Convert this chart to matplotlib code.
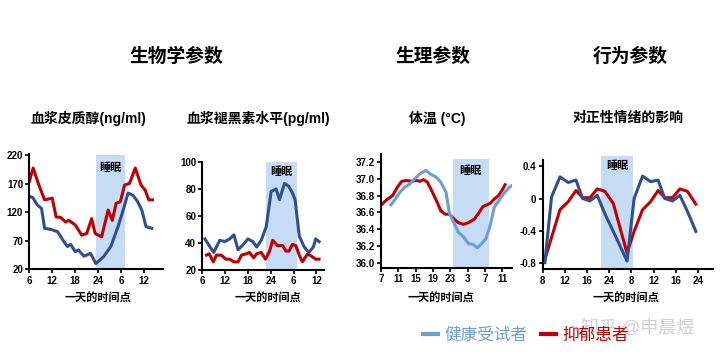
import matplotlib
matplotlib.use("Agg")
import matplotlib.pyplot as plt
from matplotlib.lines import Line2D

plt.rcParams['font.family'] = ['Liberation Sans', 'Noto Sans CJK SC', 'DejaVu Sans']

DARK_BLUE = "#2f4f8f"
LIGHT_BLUE = "#6b9fd3"
RED = "#c00000"
SLEEP = "#c6dcf5"

# --- cortisol (ng/ml) ---
cort_dep_h = [6, 7, 8.5, 10, 12, 13, 14.2, 15.5, 16.3, 18, 19.7, 21, 22.3, 23.2, 24.9,
              26.6, 27.7, 28.7, 29.8, 30.9, 32.2, 33.7, 35.2, 36.3, 37.2, 38.2]
cort_dep = [174, 198, 168, 142, 145, 112, 111, 103, 106, 98, 80, 83, 109, 83, 77,
            124, 106, 136, 139, 168, 171, 198, 168, 159, 142, 142]
cort_hea_h = [6, 6.9, 8.1, 9.2, 10, 11.7, 13.4, 15.1, 16, 16.8, 18, 18.8, 20.3, 22, 23.4,
              25.4, 27.3, 29.2, 30.8, 31.8, 33.1, 34.3, 35.4, 36.5, 38]
cort_hea = [148, 146, 133, 127, 92, 90, 86, 68, 60, 64, 51, 54, 43, 48, 30,
            42, 60, 95, 130, 154, 150, 139, 124, 95, 92]

# --- melatonin (pg/ml) ---
mel_hea_h = [6.7, 7.8, 9, 10.6, 11.9, 13.2, 14.3, 15.4, 16.5, 18, 19.3, 20.3, 21.5, 22.8,
             24.1, 25.4, 26.3, 27.6, 28.7, 29.7, 30.4, 31.5, 32.8, 34, 35.2, 35.8, 36.7]
mel_hea = [43, 38, 33, 42, 41, 43, 46, 35, 38, 43, 41, 37, 42, 52,
           78, 80, 72, 84, 82, 77, 72, 45, 37, 33, 37, 43, 41]
mel_dep_h = [7.1, 7.8, 8.9, 9.7, 11, 12.2, 13.2, 14.3, 15.4, 16.3, 17.6, 18.4, 19.5, 20.3,
             21.5, 22.6, 23.7, 24.5, 25.8, 27.1, 28, 28.8, 29.7, 30.6, 31.5, 32.3, 33.7,
             34.8, 35.8, 36.7]
mel_dep = [31, 32, 26, 31, 31, 28, 28, 26, 26, 31, 32, 33, 29, 32,
           33, 28, 34, 42, 38, 38, 34, 34, 39, 38, 31, 26, 32,
           30, 28, 28]

# --- body temperature (C) ---
temp_dep_h = [7.3, 8.3, 9.7, 10.8, 11.8, 12.9, 14.1, 15.2, 16, 16.8, 17.7, 18.7, 19.8, 20.8,
              21.8, 22.8, 23.7, 24.8, 26, 27.2, 28.5, 29.5, 30.5, 31.4, 32.2, 33.1, 34.1,
              35.1, 35.6]
temp_dep = [36.70, 36.75, 36.80, 36.90, 36.97, 36.98, 36.97, 36.98, 36.97, 36.99, 36.96,
            36.86, 36.74, 36.62, 36.58, 36.58, 36.53, 36.48, 36.46, 36.48, 36.52, 36.59,
            36.67, 36.69, 36.71, 36.76, 36.80, 36.88, 36.93]
temp_hea_h = [9.3, 10.2, 11.4, 12.5, 13.7, 14.8, 16, 17.4, 18.3, 19.7, 20.8, 22, 22.8, 23.7,
              24.8, 26.2, 27.2, 28.3, 29.2, 30.2, 31.2, 32.2, 33.1, 34.3, 35.4, 36.6, 37.2]
temp_hea = [36.69, 36.75, 36.84, 36.90, 36.94, 37.00, 37.06, 37.10, 37.06, 37.02, 36.96,
            36.84, 36.59, 36.49, 36.37, 36.30, 36.23, 36.22, 36.18, 36.23, 36.29, 36.45,
            36.66, 36.75, 36.83, 36.90, 36.92]

# --- positive affect ---
mood_x = [0.1, 0.4, 0.78, 1.15, 1.5, 1.8, 2.13, 2.46, 2.8, 3.18, 3.8,
          4.12, 4.5, 4.86, 5.2, 5.5, 5.85, 6.18, 6.52, 6.9]
mood_hea = [-0.80, 0.02, 0.27, 0.20, 0.23, 0.0, -0.03, 0.04, -0.19, -0.41, -0.78,
            0.0, 0.28, 0.21, 0.23, 0.0, -0.03, 0.04, -0.16, -0.41]
mood_dep_x = [0.1, 0.78, 1.15, 1.5, 1.8, 2.13, 2.46, 2.8, 3.18, 3.8,
              4.12, 4.5, 4.86, 5.2, 5.5, 5.85, 6.18, 6.52, 6.9]
mood_dep = [-0.76, -0.14, -0.04, 0.10, 0.01, 0.01, 0.12, 0.09, -0.06, -0.68,
            -0.41, -0.14, -0.04, 0.10, 0.01, 0.01, 0.12, 0.09, -0.07]
mood_ticks = ['8', '12', '16', '24', '8', '12', '16', '24']

fig = plt.figure(figsize=(7.2, 3.57), dpi=100)


def style(ax):
    for s in ['top', 'right']:
        ax.spines[s].set_visible(False)
    for s in ['left', 'bottom']:
        ax.spines[s].set_linewidth(1.5)
    ax.tick_params(length=3, width=1.2, labelsize=7, pad=1.5)
    for lab in ax.get_xticklabels() + ax.get_yticklabels():
        lab.set_fontweight('bold')


def sleep(ax, x0, x1, ytext, ymax=1.0):
    ax.axvspan(x0, x1, ymin=0, ymax=ymax, color=SLEEP, lw=0, zorder=0, clip_on=False)
    ax.text((x0 + x1) / 2, ytext, "睡眠", transform=ax.get_xaxis_transform(),
            ha='center', va='center', fontsize=8, fontweight='bold')


# panel 1
ax1 = fig.add_axes([0.0407, 0.2457, 0.186, 0.322])
ax1.plot(cort_dep_h, cort_dep, color=RED, lw=2.2)
ax1.plot(cort_hea_h, cort_hea, color=DARK_BLUE, lw=2.2)
ax1.set_xlim(6, 41)
ax1.set_ylim(20, 222)
ax1.set_yticks([20, 70, 120, 170, 220])
ax1.set_xticks([6, 12, 18, 24, 30, 36])
ax1.set_xticklabels(['6', '12', '18', '24', '6', '12'])
style(ax1)
sleep(ax1, 23.4, 31.0, 0.88, ymax=0.99)

# panel 2
ax2 = fig.add_axes([0.281, 0.2437, 0.169, 0.303])
ax2.plot(mel_dep_h, mel_dep, color=RED, lw=2.2)
ax2.plot(mel_hea_h, mel_hea, color=DARK_BLUE, lw=2.2)
ax2.set_xlim(6, 38)
ax2.set_ylim(20, 100)
ax2.set_yticks([20, 40, 60, 80, 100])
ax2.set_xticks([6, 12, 18, 24, 30, 36])
ax2.set_xticklabels(['6', '12', '18', '24', '6', '12'])
style(ax2)
sleep(ax2, 22.8, 31.0, 0.91)

# panel 3
ax3 = fig.add_axes([0.529, 0.249, 0.1815, 0.321])
ax3.plot(temp_dep_h, temp_dep, color=RED, lw=2.2)
ax3.plot(temp_hea_h, temp_hea, color=LIGHT_BLUE, lw=2.2)
ax3.set_xlim(7, 37.1)
ax3.set_ylim(35.94, 37.3)
ax3.set_yticks([36.0, 36.2, 36.4, 36.6, 36.8, 37.0, 37.2])
ax3.set_yticklabels(['36.0', '36.2', '36.4', '36.6', '36.8', '37.0', '37.2'])
ax3.set_xticks([7, 11, 15, 19, 23, 27, 31, 35])
ax3.set_xticklabels(['7', '11', '15', '19', '23', '3', '7', '11'])
style(ax3)
sleep(ax3, 23.5, 31.8, 0.85, ymax=0.95)

# panel 4
ax4 = fig.add_axes([0.7537, 0.2457, 0.2365, 0.306])
ax4.plot(mood_dep_x, mood_dep, color=RED, lw=2.2)
ax4.plot(mood_x, mood_hea, color=DARK_BLUE, lw=2.2)
ax4.set_xlim(0, 7.67)
ax4.set_ylim(-0.883, 0.48)
ax4.set_yticks([-0.8, -0.4, 0, 0.4])
ax4.set_yticklabels(['-0.8', '-0.4', '0', '0.4'])
ax4.set_xticks(range(len(mood_ticks)))
ax4.set_xticklabels(mood_ticks)
style(ax4)
sleep(ax4, 2.65, 4.08, 0.95, ymax=1.04)

# titles
for x, t in [(176, "生物学参数"), (433, "生理参数"), (630, "行为参数")]:
    fig.text(x / 720, 1 - 57 / 357, t, ha='center', va='center', fontsize=13.5, fontweight='bold')
for x, t in [(88, "血浆皮质醇(ng/ml)"), (258, "血浆褪黑素水平(pg/ml)"),
             (437, "体温 (°C)"), (628, "对正性情绪的影响")]:
    fig.text(x / 720, 1 - 118 / 357, t, ha='center', va='center', fontsize=10, fontweight='bold')
for x in [98, 268, 441, 626]:
    fig.text(x / 720, 1 - 298 / 357, "一天的时间点", ha='center', va='center',
             fontsize=8, fontweight='bold')

# legend
handles = [Line2D([], [], color=LIGHT_BLUE, lw=3), Line2D([], [], color=RED, lw=3)]
leg = fig.legend(handles, ["健康受试者", "抑郁患者"], loc='center', ncol=2,
                 bbox_to_anchor=(526 / 720, 1 - 335 / 357), frameon=False,
                 fontsize=12, handlelength=0.9, handletextpad=0.4, columnspacing=0.8)
for txt, c in zip(leg.get_texts(), [LIGHT_BLUE, RED]):
    txt.set_color(c)

fig.text(638 / 720, 1 - 328 / 357, "知乎 @申晨煜", ha='center', va='center',
         fontsize=13, color='#b0b0b0', alpha=0.6)

fig.savefig("out.png", dpi=100)
